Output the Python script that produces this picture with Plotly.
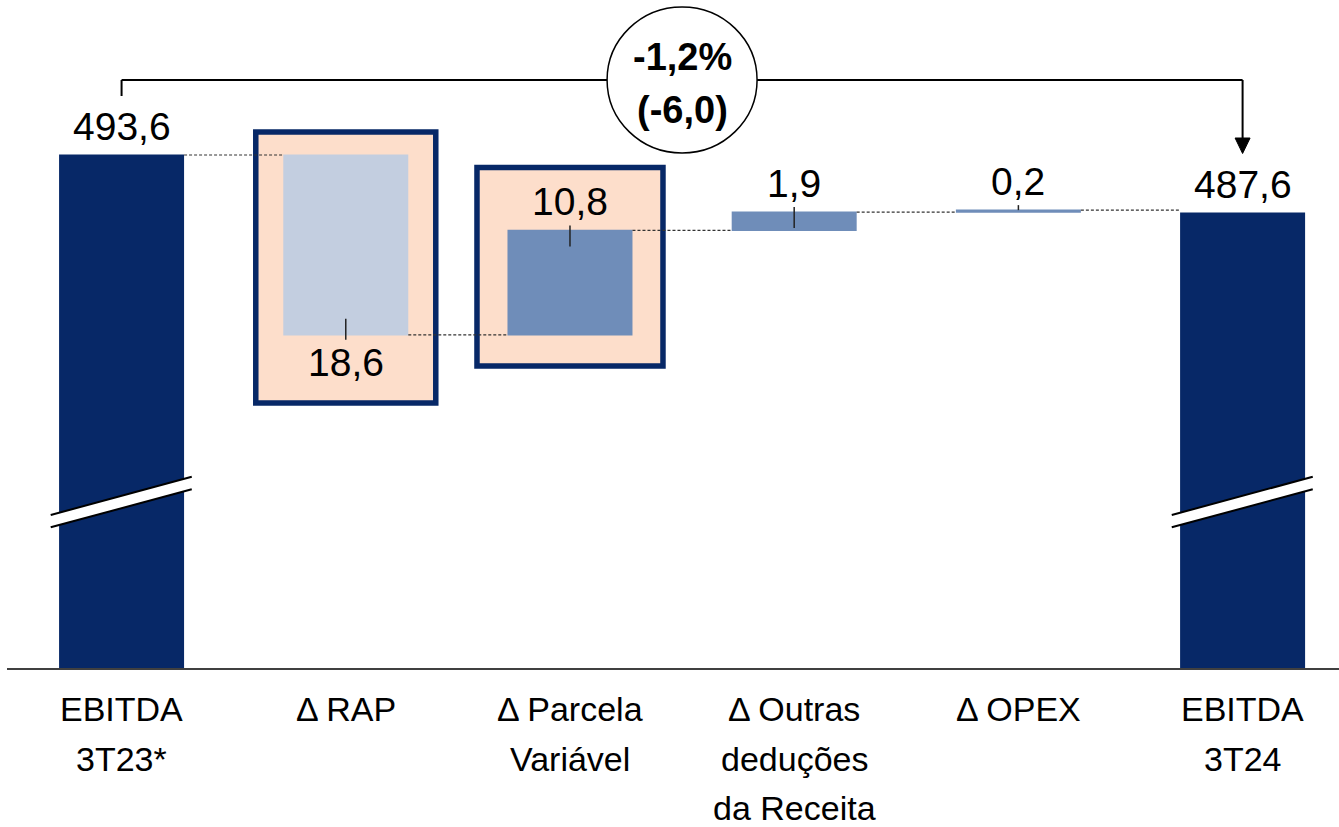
import plotly.graph_objects as go

# ---------------- data ----------------
categories = [
    ["EBITDA", "3T23*"],
    ["Δ RAP"],
    ["Δ Parcela", "Variável"],
    ["Δ Outras", "deduções", "da Receita"],
    ["Δ OPEX"],
    ["EBITDA", "3T24"],
]
values = [493.6, -18.6, 10.8, 1.9, 0.2, 487.6]
measures = ["absolute", "relative", "relative", "relative", "relative", "absolute"]
variation_pct = "-1,2%"
variation_abs = "(-6,0)"

# ---------------- styles ----------------
NAVY = "#072867"
LIGHT = "#C3CEE0"
MID = "#6F8DB9"
PEACH = "#FDDECB"
FONT = "Liberation Sans, Arial, sans-serif"
Y_RANGE = [440.55, 509.63]
X_RANGE = [-0.511, 5.43]
BAR_W = 0.5575

def fmt(v):
    return f"{abs(v):.1f}".replace(".", ",")

# cumulative start / end of each bar
starts, ends = [], []
run = 0.0
for v, m in zip(values, measures):
    if m == "absolute":
        s, e = 0.0, v
        run = v
    else:
        s, e = run, run + v
        run = e
    starts.append(s)
    ends.append(e)

x = list(range(len(values)))

fig = go.Figure()
fig.add_trace(go.Waterfall(
    x=x, y=values, measure=measures, width=BAR_W,
    decreasing=dict(marker=dict(color=LIGHT, line=dict(width=0))),
    increasing=dict(marker=dict(color=MID, line=dict(width=0))),
    totals=dict(marker=dict(color=NAVY, line=dict(width=0))),
    connector=dict(mode="between", line=dict(color="#333333", width=1.2, dash="3px,2px")),
    hoverinfo="skip", showlegend=False,
))

shapes = []
annotations = []

# highlight boxes around RAP and Parcela Variável
box_specs = {1: (-90, 90, 23, -248), 2: (-93, 93, 63, -135.5)}
for i, (x0, x1, yt, yb) in box_specs.items():
    top = max(starts[i], ends[i])
    shapes.append(dict(type="rect", layer="below", xref="x", yref="y",
                       xsizemode="pixel", ysizemode="pixel", xanchor=i, yanchor=top,
                       x0=x0, x1=x1, y0=yb, y1=yt,
                       fillcolor=PEACH, line=dict(color=NAVY, width=5.5)))

# axis break marks on the total bars
for i in (0, 5):
    xl, xr = i - 0.316, i + 0.313
    shapes.append(dict(type="path", xref="x", yref="y",
                       path=f"M {xl},456.37 L {xr},460.33 L {xr},459.03 L {xl},455.10 Z",
                       fillcolor="white", line=dict(width=0)))
    shapes.append(dict(type="line", xref="x", yref="y", x0=xl, x1=xr, y0=456.37, y1=460.33,
                       line=dict(color="black", width=2)))
    shapes.append(dict(type="line", xref="x", yref="y", x0=xl, x1=xr, y0=455.10, y1=459.03,
                       line=dict(color="black", width=2)))

# value labels and leader ticks
for i, v in enumerate(values):
    anchor = ends[i]
    shift = -28 if (measures[i] == "relative" and v < 0) else 29
    annotations.append(dict(x=i, y=anchor, xref="x", yref="y", text=fmt(v),
                            showarrow=False, yanchor="middle", yshift=shift,
                            font=dict(family=FONT, size=39, color="black")))
    if measures[i] == "relative":
        if v < 0:
            y0, y1 = -5, 16
        else:
            y0, y1 = 5, -min(16, max(0, abs(v) * 9.67 - 2))
        shapes.append(dict(type="line", xref="x", yref="y", xsizemode="pixel",
                           ysizemode="pixel", xanchor=i, yanchor=anchor,
                           x0=0, x1=0, y0=y0, y1=y1,
                           line=dict(color="#222222", width=1.5)))

# bracket with arrow
shapes.append(dict(type="line", xref="x", yref="paper", ysizemode="pixel", yanchor=1,
                   x0=0, x1=0, y0=-80, y1=-96, line=dict(color="black", width=2)))
shapes.append(dict(type="line", xref="x", yref="paper", ysizemode="pixel", yanchor=1,
                   x0=0, x1=5, y0=-80, y1=-80, line=dict(color="black", width=2)))
shapes.append(dict(type="line", xref="x", yref="paper", ysizemode="pixel", yanchor=1,
                   x0=5, x1=5, y0=-80, y1=-139, line=dict(color="black", width=2)))
shapes.append(dict(type="path", xref="x", yref="paper", xsizemode="pixel", ysizemode="pixel",
                   xanchor=5, yanchor=1, path="M -7.5,-138 L 7.5,-138 L 0,-153.5 Z",
                   fillcolor="black", line=dict(color="black", width=1)))
shapes.append(dict(type="circle", xref="x", yref="paper", xsizemode="pixel", ysizemode="pixel",
                   xanchor=2.5, yanchor=1, x0=-75, x1=75, y0=-7, y1=-153,
                   fillcolor="white", line=dict(color="black", width=1.5)))
for txt, sh in ((variation_pct, -57), (variation_abs, -110)):
    annotations.append(dict(x=2.5, y=1, xref="x", yref="paper", text=f"<b>{txt}</b>",
                            showarrow=False, yanchor="middle", yshift=sh,
                            font=dict(family=FONT, size=38, color="black")))

# category labels (one annotation per line for exact line spacing)
for i, lines in enumerate(categories):
    for k, line in enumerate(lines):
        annotations.append(dict(x=i, y=0, xref="x", yref="paper", text=line,
                                showarrow=False, yanchor="middle", yshift=-41 - 49.5 * k,
                                font=dict(family=FONT, size=34, color="black")))

fig.update_layout(
    width=1339, height=827,
    margin=dict(l=7, r=0, t=0, b=159),
    plot_bgcolor="white", paper_bgcolor="white",
    xaxis=dict(range=X_RANGE, showticklabels=False, ticks="", showgrid=False,
               zeroline=False, showline=True, linecolor="#404040", linewidth=2),
    yaxis=dict(range=Y_RANGE, visible=False, showgrid=False, zeroline=False),
    shapes=shapes, annotations=annotations,
    separators=",.",
)

fig.write_html(
    "out.html",
    config={"displayModeBar": False},
    post_script="document.body.style.margin='0';document.body.style.padding='0';"
                "document.body.style.overflow='hidden';",
)
